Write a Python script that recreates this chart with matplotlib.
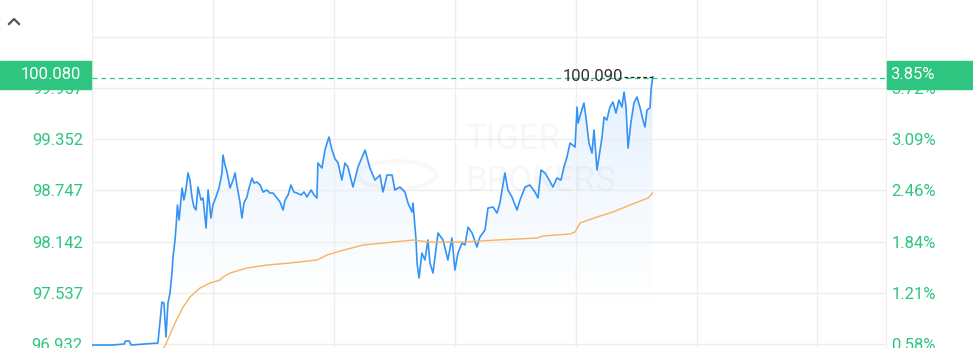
import numpy as np
import matplotlib
matplotlib.use("Agg")
import matplotlib.pyplot as plt
from matplotlib.patches import Rectangle, Circle
from matplotlib.lines import Line2D

plt.rcParams['font.family'] = ['Roboto', 'DejaVu Sans']

# intraday price (minutes since open, price)
price_t = [0, 10, 16, 16.5, 18.5, 19.5, 32.7, 34.7, 35.7, 36.7, 37.7, 38.7, 39.7, 40.2, 41.2,
           41.7, 42.4, 43.2, 44.7, 45.6, 46.6, 47.6, 48.6, 49.6, 50.6, 51.6, 52.6, 54.1, 55.1,
           56.6, 57.6, 59.0, 60.0, 61.5, 63.0, 64.5, 65.0, 66.0, 67.0, 68.5, 70.0, 71.0, 71.9,
           73.4, 74.4, 75.4, 76.9, 77.9, 79.4, 80.4, 81.9, 83.4, 84.9, 86.8, 88.3, 89.8, 91.8,
           93.3, 94.8, 95.8, 97.3, 98.7, 100.2, 101.7, 103.7, 105.2, 106.7, 108.7, 110.2, 111.6,
           112.1, 114.1, 115.6, 116.6, 117.6, 119.1, 120.6, 122.1, 124.0, 125.5, 127.0, 129.5,
           132.0, 135.5, 137.9, 140.4, 142.9, 144.4, 146.4, 148.9, 150.3, 152.8, 155.3, 156.8,
           158.8, 159.3, 160.8, 161.3, 162.3, 163.7, 165.2, 166.7, 167.7, 169.2, 171.7, 174.2,
           176.6, 178.6, 180.1, 181.6, 183.6, 185.1, 186.6, 188.6, 191.0, 192.5, 195.0, 196.5,
           199.0, 201.0, 202.4, 204.9, 206.4, 208.4, 210.9, 212.4, 214.9, 217.3, 219.8, 221.3,
           222.8, 224.8, 226.3, 228.7, 230.7, 232.7, 234.2, 235.7, 237.2, 239.7, 240.7, 241.2,
           242.6, 244.1, 245.1, 246.6, 248.1, 249.1, 250.6, 251.6, 253.1, 254.1, 255.5, 257.0,
           258.5, 260.0, 261.5, 263.0, 264.0, 265.0, 266.0, 267.4, 268.9, 270.4, 271.9, 273.4,
           274.4, 275.4, 276.9, 277.4, 278.2]
price = [96.920, 96.920, 96.932, 96.967, 96.967, 96.920, 96.944, 97.428, 97.416, 97.015, 97.416,
         97.535, 97.771, 97.960, 98.161, 98.314, 98.574, 98.397, 98.775, 98.634, 98.752, 98.953,
         98.870, 98.669, 98.551, 98.515, 98.787, 98.634, 98.657, 98.303, 98.752, 98.421, 98.574,
         98.669, 98.775, 98.953, 99.165, 99.047, 98.964, 98.775, 98.870, 98.953, 98.811, 98.610,
         98.421, 98.598, 98.669, 98.775, 98.893, 98.834, 98.846, 98.811, 98.728, 98.752, 98.716,
         98.716, 98.657, 98.610, 98.515, 98.634, 98.693, 98.811, 98.728, 98.716, 98.693, 98.728,
         98.669, 98.752, 98.693, 98.657, 99.071, 99.012, 99.224, 99.307, 99.378, 99.224, 99.120,
         99.071, 98.870, 99.071, 99.024, 98.787, 99.024, 99.224, 99.012, 98.870, 98.929, 98.728,
         98.929, 98.929, 98.752, 98.787, 98.728, 98.598, 98.492, 98.598, 98.161, 97.889, 97.712,
         98.007, 97.925, 98.161, 97.889, 97.771, 98.244, 98.161, 97.925, 98.184, 97.806, 98.007,
         98.125, 98.102, 98.314, 98.244, 98.078, 98.196, 98.279, 98.539, 98.551, 98.480, 98.598,
         98.953, 98.752, 98.669, 98.515, 98.634, 98.787, 98.811, 98.728, 98.657, 98.988, 98.953,
         98.893, 98.787, 98.893, 98.870, 99.024, 99.142, 99.307, 99.260, 99.732, 99.543, 99.662,
         99.780, 99.614, 99.307, 99.189, 99.461, 98.988, 99.142, 99.378, 99.614, 99.579, 99.732,
         99.792, 99.662, 99.815, 99.732, 99.910, 99.732, 99.248, 99.543, 99.780, 99.851, 99.732,
         99.579, 99.496, 99.697, 99.721, 99.933, 100.090]

# average price line
avg_t = [35.0, 36.2, 41.2, 45.2, 48.6, 53.6, 58.6, 63.5, 65.0, 68.5, 76.9, 86.8, 98.2, 111.6,
         116.6, 123.1, 134.5, 159.3, 167.7, 184.1, 201.0, 220.8, 223.8, 237.2, 239.7, 242.2,
         250.6, 258.5, 267.0, 275.9, 278.2]
avg = [96.860, 96.908, 97.180, 97.369, 97.487, 97.594, 97.653, 97.688, 97.724, 97.771, 97.830,
       97.865, 97.889, 97.925, 97.984, 98.031, 98.102, 98.161, 98.137, 98.137, 98.161, 98.184,
       98.208, 98.232, 98.255, 98.362, 98.433, 98.492, 98.575, 98.657, 98.716]

prev_close = 96.372
cur_price = 100.080
grid_prices = [96.932, 97.537, 98.142, 98.747, 99.352, 99.957, 100.562]
label_prices = [96.932, 97.537, 98.142, 98.747, 99.352, 99.957]

green = '#2dc57f'
blue = '#3593f5'
orange = '#f7b35e'
W, H = 973, 348

fig = plt.figure(figsize=(9.73, 3.48), dpi=100)
ax = fig.add_axes([92 / W, 0, 794 / W, 1])
ax.set_xlim(0, 394)
ax.set_ylim(96.885, 100.997)

ax.set_xticks([0, 60, 120, 180, 240, 300, 360])
ax.set_yticks(grid_prices)
ax.set_yticklabels([f'{p:.3f}' if p in label_prices else '' for p in grid_prices])
ax.grid(True, color='#eeeeee', lw=1)
ax.tick_params(axis='x', length=0, labelbottom=False)
ax.tick_params(axis='y', length=0, pad=6.5, labelsize=12, labelcolor=green)
for s in ['top', 'bottom']:
    ax.spines[s].set_visible(False)
for s in ['left', 'right']:
    ax.spines[s].set_color('#eeeeee')

ax2 = ax.twinx()
ax2.set_ylim(ax.get_ylim())
ax2.set_yticks(grid_prices)
ax2.set_yticklabels([f'{(p / prev_close - 1) * 100:.2f}%' if p in label_prices else ''
                     for p in grid_prices])
ax2.tick_params(axis='y', length=0, pad=4, labelsize=12, labelcolor=green)
for s in ax2.spines.values():
    s.set_visible(False)

# watermark
ax.text(185, 99.35, 'TIGER', fontsize=25, color='#000000', alpha=0.03, va='center', ha='left')
ax.text(185, 98.85, 'BROKERS', fontsize=25, color='#000000', alpha=0.03, va='center', ha='left')
fig.add_artist(Circle((397 / W, 1 - 175 / H), 0.04, transform=fig.transFigure,
                      fill=False, ec='#000000', alpha=0.025, lw=3))

# gradient fill under the price line
t = np.array(price_t)
p = np.array(price)
poly = ax.fill_between(t, p, 96.885, color='none', lw=0)
grad = np.linspace(0, 1, 256)
rgba = np.zeros((256, 1, 4))
rgba[:, 0, 0] = 0.20
rgba[:, 0, 1] = 0.58
rgba[:, 0, 2] = 0.98
rgba[:, 0, 3] = 0.14 * np.clip((grad - 0.12) / 0.88, 0, 1) ** 1.2
img = ax.imshow(rgba, extent=[0, t[-1], 96.885, p.max()], origin='lower',
                aspect='auto', zorder=1)
path = poly.get_paths()[0]
img.set_clip_path(path, transform=ax.transData)
ax.set_xlim(0, 394)
ax.set_ylim(96.885, 100.997)

ax.plot(t, p, color=blue, lw=1.2, zorder=3)
ax.plot(avg_t, avg, color=orange, lw=1.0, zorder=3)

# current price line
ax.axhline(cur_price, color=green, lw=0.9, ls=(0, (4, 3)), zorder=4)

# last price label
ax.plot([t[-1] - 14, t[-1]], [p[-1], p[-1]], color='#222222', lw=0.9, ls=(0, (3, 2)), zorder=5)
ax.text(t[-1] - 14.5, p[-1], f'{p[-1]:.3f}', fontsize=12, color='#333333',
        ha='right', va='center', zorder=5)

# highlighted value boxes
fig.add_artist(Rectangle((0, 1 - 88.5 / H), 91 / W, 28 / H, transform=fig.transFigure,
                         color=green, zorder=5))
fig.text(81 / W, 1 - 74.5 / H, f'{cur_price:.3f}', color='white', fontsize=12,
         ha='right', va='center', zorder=6)
fig.add_artist(Rectangle((887 / W, 1 - 88.5 / H), 86 / W, 28 / H, transform=fig.transFigure,
                         color=green, zorder=5))
fig.text(890 / W, 1 - 74.5 / H, f'{(cur_price / prev_close - 1) * 100:.2f}%', color='white',
         fontsize=12, ha='left', va='center', zorder=6)

# collapse caret
fig.add_artist(Line2D([9 / W, 14 / W, 19 / W], [1 - 24 / H, 1 - 19 / H, 1 - 24 / H],
                      transform=fig.transFigure, color='#555555', lw=1.6))

fig.savefig('out.png', dpi=100)
